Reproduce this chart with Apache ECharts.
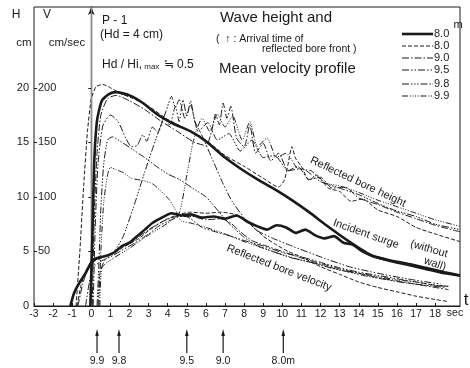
<!DOCTYPE html>
<html>
<head>
<meta charset="utf-8">
<script src="https://cdn.jsdelivr.net/npm/echarts@6/dist/echarts.min.js"></script>
<style>
html, body { margin: 0; padding: 0; background: #fff; }
#main { width: 470px; height: 368px; }
</style>
</head>
<body>
<div id="main"></div>
<script>
// gauge positions (m) and their line styles, in legend order
var gauges = ['8.0', '8.0', '9.0', '9.5', '9.8', '9.9'];
var dashes = ['solid', [4, 2], [7, 2, 1.5, 2], [7, 2, 1.5, 2, 1.5, 2], [7, 2, 1.5, 1.5, 1.5, 1.5, 1.5, 2], [6, 2, 1, 1.5, 1, 1.5, 1, 1.5, 1, 2]];
var widths = [2.6, 1, 1, 1, 1, 1];

var xTicks = [-3, -2, -1, 0, 1, 2, 3, 4, 5, 6, 7, 8, 9, 10, 11, 12, 13, 14, 15, 16, 17, 18];
var hTicks = [0, 5, 10, 15, 20];
var vTicks = [50, 100, 150, 200];

// arrival time of reflected bore front (sec) at each gauge
var arrivalT = [0.3, 1.45, 5, 6.9, 10.05];
var arrivalLabel = ['9.9', '9.8', '9.5', '9.0', '8.0m'];

// wave height H (cm), [t, H]
var h80w = [[-0.05,0],[0.05,6],[0.15,13],[0.3,17],[0.55,18.8],[0.9,19.4],[1.3,19.6],[2,19.3],[2.7,18.6],[3.5,17.5],[4.3,16.7],[5.2,16],[6,15.1],[7,13.6],[7.8,12.6],[8.7,11.6],[9.7,10.6],[10.5,9.7],[11.4,8.6],[12.3,7.4],[13.5,5.9],[14.7,4.6],[15.6,4.2],[16.5,3.9],[17.5,3.5],[18.5,3.1],[19.3,2.8]];
var h80 = [[-0.8,0],[-0.6,5],[-0.4,11],[-0.2,16],[0,19],[0.25,20.1],[0.6,20.3],[1,20],[1.5,19.5],[2.2,19],[3,18.3],[4,17.1],[5,16.2],[6,15.2],[7,13.8],[8,12.8],[9,11.7],[9.8,10.9],[10.1,11.5],[10.3,13],[10.5,14.6],[10.7,13.5],[11,12.8],[11.4,11.5],[11.8,12],[12.4,10.8],[13,10.5],[13.6,9.6],[14.2,9.8],[15,8.8],[16,8.2],[17,7.2],[18,6.6],[19.3,5.9]];
var h90 = [[0.05,0],[0.15,8],[0.3,14],[0.5,17.5],[0.85,19],[1.3,19.3],[2,18.8],[2.8,18],[3.6,17],[4.5,16],[5.4,15],[6,14.7],[6.3,16],[6.5,17.6],[6.7,16.6],[6.9,18.6],[7.1,17.2],[7.3,18.3],[7.6,15.4],[8,14.6],[8.3,16.6],[8.6,14],[9,14.9],[9.4,13.3],[9.8,14],[10.3,12.4],[10.8,12.8],[11.4,11.6],[12,11.8],[12.6,10.8],[13.3,10.9],[14,9.9],[15,9.3],[16,8.6],[17,8],[18,7.4],[19.3,6.8]];
var h95 = [[0.1,0],[0.2,7],[0.35,13],[0.6,16.5],[1,17.5],[1.4,16.9],[1.8,15.4],[2.1,14.6],[2.4,14.7],[2.7,15.7],[2.9,15.1],[3.2,16.4],[3.5,15.9],[3.8,17.2],[4.1,16.6],[4.4,18.3],[4.6,16.9],[4.8,18.9],[5,17.4],[5.2,18.8],[5.4,17],[5.8,15.6],[6.3,13.6],[6.9,11.2],[7.4,9.5],[8,8.1],[8.6,7],[9.5,6.2],[10.5,5.5],[12,4.5],[13.5,3.6],[15,3],[16.5,2.5],[18.3,2]];
var h98 = [[0.35,0],[0.45,3],[0.7,4.2],[1.2,5],[1.65,6.3],[2.2,9],[2.8,12.3],[3.4,15.4],[3.9,17.8],[4.2,19.2],[4.4,18.2],[4.6,18.9],[4.9,17.2],[5.2,18.4],[5.6,16],[6.1,16.8],[6.6,15.2],[7.2,15.8],[7.8,14.2],[8.4,15.2],[9,13.6],[9.6,13.8],[10.3,12.4],[11,12.6],[12,11.4],[13,10.8],[14,10.2],[15,9.4],[16,8.7],[17,8.2],[18,7.5],[19.3,7]];
var h99 = [[0.45,0],[0.55,3.5],[1,4.2],[2,5.3],[3,6.5],[4,7.6],[4.6,8.5],[5,12],[5.3,14.8],[5.5,16.1],[5.8,17.2],[6.2,16],[6.6,17.6],[7,16.4],[7.4,17.4],[7.9,15.2],[8.3,16.9],[8.7,14.6],[9.2,15.4],[9.7,13.6],[10.2,14],[10.8,12.6],[11.5,12.4],[12.2,11.3],[13,11],[14,10.4],[15,9.7],[16,9.1],[17,8.5],[18,7.9],[19.3,7.3]];

// mean velocity V (cm/sec), [t, V]
var v80w = [[-1.1,0],[-0.9,12],[-0.6,22],[-0.3,30],[0,40],[0.3,44],[0.8,46],[1.2,49],[1.6,55],[2,58],[2.4,64],[2.8,70],[3.2,76],[3.6,80],[4.2,85],[4.7,83],[5.2,84],[5.8,81],[6.4,82],[7,80],[7.6,83],[8.2,77],[8.7,73],[9.2,70],[9.7,74],[10.2,72],[10.7,67],[11.2,70],[11.7,65],[12.2,62],[12.7,64],[13.2,58],[13.7,56],[14.2,50],[14.7,46],[15.5,42],[16.5,38],[17.5,34],[18.5,30],[19.3,28]];
var v80 = [[-0.75,0],[-0.55,18],[-0.3,32],[0,40],[0.5,44],[1,47],[1.5,52],[2,57],[2.5,62],[3,69],[3.5,75],[4,80],[4.6,84],[5.2,86],[6,85],[6.8,86],[7.5,84],[8,80],[8.5,72],[9,64],[9.6,57],[10.3,50],[11,45],[12,36],[13,29],[14,22],[15,17],[16,13],[17,9],[18,6],[18.7,4]];
var v90 = [[-0.7,0],[-0.45,20],[-0.2,33],[0.2,42],[0.8,46],[1.5,53],[2.2,60],[3,70],[3.8,78],[4.5,82],[5.3,82],[6,79],[6.8,80],[7.3,76],[7.8,68],[8.4,60],[9,56],[10,50],[11,44],[12,39],[13,34],[14,30],[15,26],[16,23],[17,20],[18,17],[18.7,15]];
var v95 = [[-0.3,0],[-0.1,22],[0.1,35],[0.5,41],[1,45],[1.6,51],[2.3,58],[3,66],[3.6,74],[4.2,79],[4.8,83],[5.2,80],[5.8,72],[6.5,68],[7.3,64],[8,60],[9,55],[10,49],[11,45],[12,40],[13,35],[14,31],[15,28],[16,25],[17,22],[18,19],[18.7,18]];
var v98 = [[0.3,0],[0.4,40],[0.5,90],[0.65,130],[0.85,152],[1.1,155],[1.6,150],[2.2,143],[2.8,136],[3.4,128],[4,121],[4.6,116],[5.3,108],[6,100],[6.6,88],[7.3,74],[8,63],[8.6,56],[9.5,50],[10.5,44],[11.5,40],[12.5,35],[13.5,31],[14.5,27],[15.5,24],[16.5,21],[17.5,19],[18.5,17]];
var v99 = [[0.4,0],[0.5,50],[0.65,95],[0.85,120],[1,127],[1.3,125],[1.7,122],[2.1,117],[2.7,115],[3.2,112],[3.6,106],[4.1,97],[4.5,85],[4.7,78],[5.2,76],[6,72],[7,66],[8,59],[9,53],[10,47],[11,42],[12,38],[13,33],[14,30],[15,27],[16,24],[17,22],[18,19],[18.7,18]];

var heights = [h80w, h80, h90, h95, h98, h99];
var velocities = [v80w, v80, v90, v95, v98, v99];

var FONT = 'Liberation Sans';
var INK = '#1a1a1a';

var chart = echarts.init(document.getElementById('main'));

var series = [];
function addSeries(list, axis) {
	for (var i = 0; i < list.length; i++) {
		series.push({
			type: 'line',
			yAxisIndex: axis,
			data: list[i],
			symbol: 'none',
			smooth: 0.2,
			silent: true,
			z: i == 0 ? 5 : 3,
			lineStyle: { color: INK, width: widths[i], type: dashes[i] }
		});
	}
}
addSeries(heights, 0);
addSeries(velocities, 1);

// t = 0 reference line
series[0].markLine = {
	silent: true,
	symbol: 'none',
	label: { show: false },
	lineStyle: { color: '#8a8a8a', type: 'solid', width: 1 },
	data: [{ xAxis: 0 }]
};

chart.setOption({
	animation: false,
	grid: { left: 34, right: 10, top: 7, bottom: 62, show: true, borderColor: INK, borderWidth: 1 },
	xAxis: {
		type: 'value', min: -3, max: 19.3, interval: 1,
		axisLine: { lineStyle: { color: INK, width: 1.2 } },
		axisTick: { inside: true, length: 3, customValues: xTicks, lineStyle: { color: INK } },
		axisLabel: { customValues: xTicks, color: INK, fontFamily: FONT, fontSize: 10.5, margin: 3 },
		splitLine: { show: false }
	},
	yAxis: [{
		type: 'value', min: 0, max: 27.4, position: 'left',
		axisLine: { show: true, symbol: ['none', 'arrow'], symbolSize: [5, 8], lineStyle: { color: INK, width: 1.4 } },
		axisTick: { show: true, length: 3, customValues: hTicks, lineStyle: { color: INK } },
		axisLabel: { customValues: hTicks, color: INK, fontFamily: FONT, fontSize: 11, margin: 5 },
		splitLine: { show: false }
	}, {
		type: 'value', min: 0, max: 274, position: 'left', offset: 0,
		axisLine: { show: false },
		axisTick: { show: true, inside: true, length: 3, customValues: vTicks, lineStyle: { color: INK } },
		axisLabel: { inside: true, customValues: vTicks, color: INK, fontFamily: FONT, fontSize: 11, margin: 4 },
		splitLine: { show: false }
	}],
	series: series
});

function txt(x, y, s, size, align, rot) {
	return {
		type: 'text', x: x, y: y, rotation: rot || 0, silent: true,
		style: { text: s, fill: INK, font: size + 'px "' + FONT + '"', textAlign: align || 'left', textVerticalAlign: 'middle' }
	};
}

var g = [];
// axis headings
g.push(txt(16, 15, 'H', 12, 'center'));
g.push(txt(47, 15, 'V', 12, 'center'));
g.push(txt(24, 43, 'cm', 11.5, 'center'));
g.push(txt(67, 43, 'cm/sec', 11.5, 'center'));
g.push(txt(455, 313, 'sec', 10.5, 'center'));
g.push(txt(466, 300, 't', 17, 'center'));

// experiment notes and title
g.push(txt(102, 21, 'P - 1', 12));
g.push(txt(100, 35, '(Hd = 4 cm)', 12));
g.push({
	type: 'text', x: 102, y: 65, silent: true,
	style: {
		text: '{a|Hd / Hi,}{b| max}{a| ≒ 0.5}',
		textVerticalAlign: 'middle',
		rich: {
			a: { fontFamily: FONT, fontSize: 12, fill: INK, color: INK },
			b: { fontFamily: FONT, fontSize: 8, fill: INK, color: INK, verticalAlign: 'bottom', padding: [4, 1, 0, 0] }
		}
	}
});
g.push(txt(220, 18, 'Wave height and', 15));
g.push(txt(216, 39, '(  ↑ : Arrival time of', 10.5));
g.push(txt(262, 49, 'reflected bore front )', 10.5));
g.push(txt(219, 69, 'Mean velocity profile', 15));

// curve annotations
g.push(txt(358, 182, 'Reflected bore height', 11, 'center', -0.44));
g.push(txt(366, 234, 'Incident surge', 11, 'center', -0.34));
g.push(txt(429, 249, '(without', 11, 'center', -0.28));
g.push(txt(435, 264, 'wall)', 11, 'center', -0.33));
g.push(txt(279, 268, 'Reflected bore velocity', 11, 'center', -0.37));

// legend
var legendY = [34, 46, 58, 70, 84, 96];
g.push(txt(458, 25, 'm', 11, 'center'));
for (var i = 0; i < gauges.length; i++) {
	g.push({
		type: 'line', silent: true,
		shape: { x1: 402, y1: legendY[i], x2: 433, y2: legendY[i] },
		style: { stroke: INK, lineWidth: widths[i], lineDash: dashes[i] == 'solid' ? null : dashes[i] }
	});
	g.push(txt(434, legendY[i], gauges[i], 11));
}

// arrival arrows under the time axis
for (var k = 0; k < arrivalT.length; k++) {
	var ax = chart.convertToPixel({ xAxisIndex: 0 }, arrivalT[k]);
	g.push({ type: 'line', silent: true, shape: { x1: ax, y1: 353, x2: ax, y2: 334 }, style: { stroke: INK, lineWidth: 1.2 } });
	g.push({ type: 'polygon', silent: true, shape: { points: [[ax - 1.8, 336], [ax + 1.8, 336], [ax, 329]] }, style: { fill: INK } });
	g.push(txt(ax, 361, arrivalLabel[k], 10.5, 'center'));
}

chart.setOption({ graphic: g });
</script>
</body>
</html>
